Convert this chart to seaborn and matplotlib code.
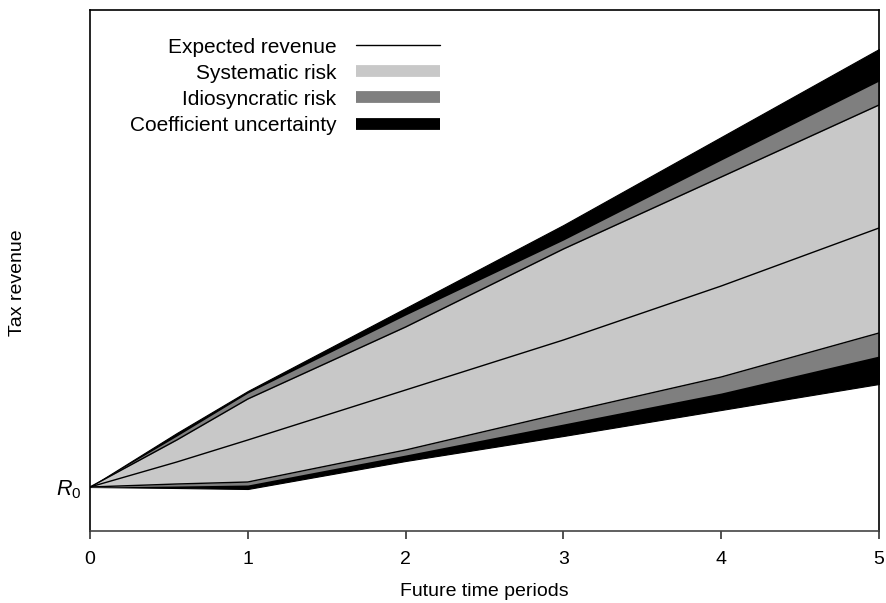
import matplotlib
matplotlib.use("Agg")
import matplotlib.pyplot as plt
from matplotlib.lines import Line2D
import numpy as np
import pandas as pd
import seaborn as sns

# Future time periods at which the revenue bands are evaluated
periods = [0, 0.55, 1, 2, 3, 4, 5]

# Revenue levels (same arbitrary units as the y axis; R0 = 44)
r0 = 44
expected = [44, 69, 91, 141, 191, 245, 303]
systematic_upper = [44, 91, 132, 204, 282, 354, 426]
systematic_lower = [44, 47, 49, 81, 118, 154, 198]
idiosyncratic_upper = [44, 95, 138, 216, 291, 371, 450]
idiosyncratic_lower = [44, 45, 46, 76, 107, 138, 175]
coefficient_upper = [44, 98, 140, 223, 306, 394, 482]
coefficient_lower = [44, 43, 42, 70, 95, 121, 147]

x_ticks = [0, 1, 2, 3, 4, 5]
legend_labels = ["Expected revenue", "Systematic risk",
                 "Idiosyncratic risk", "Coefficient uncertainty"]

LIGHT = "#c8c8c8"
MID = "#7f7f7f"
DARK = "#000000"

sns.set_theme(style="white")
plt.rcParams["font.family"] = ["Liberation Sans", "DejaVu Sans"]
plt.rcParams["mathtext.fontset"] = "custom"
plt.rcParams["mathtext.rm"] = "Liberation Sans"
plt.rcParams["mathtext.it"] = "Liberation Sans:italic"
for key in ["text.color", "axes.labelcolor", "xtick.color", "ytick.color"]:
    plt.rcParams[key] = "black"

df = pd.DataFrame({
    "t": periods,
    "expected": expected,
    "sys_hi": systematic_upper,
    "sys_lo": systematic_lower,
    "idio_hi": idiosyncratic_upper,
    "idio_lo": idiosyncratic_lower,
    "coef_hi": coefficient_upper,
    "coef_lo": coefficient_lower,
})

fig = plt.figure(figsize=(8.87, 6.03), dpi=100)
ax = fig.add_axes([90 / 887, 72 / 603, 789 / 887, 521 / 603])

# Nested uncertainty bands, outermost first
ax.fill_between(df["t"], df["coef_lo"], df["coef_hi"], color=DARK,
                linewidth=0.8, edgecolor=DARK)
ax.fill_between(df["t"], df["idio_lo"], df["idio_hi"], color=MID,
                linewidth=0)
ax.fill_between(df["t"], df["sys_lo"], df["sys_hi"], color=LIGHT,
                linewidth=0)

# Edges of the systematic band and the expected path
for col in ["sys_hi", "sys_lo", "expected"]:
    sns.lineplot(data=df, x="t", y=col, ax=ax, color="black",
                 linewidth=1.0, legend=False, estimator=None)

ax.set_xlim(0, 5)
ax.set_ylim(0, 521)
ax.set_xticks(x_ticks)
ax.set_xticklabels([str(v) for v in x_ticks], fontsize=14)
ax.set_yticks([r0])
ax.set_yticklabels([r"$R_0$"], fontsize=15.5)
ax.tick_params(axis="x", direction="out", length=6, width=1.2,
               color="#333333", pad=8.5, bottom=True)
ax.tick_params(axis="y", length=0, pad=6)

for side, sp in ax.spines.items():
    sp.set_visible(True)
    sp.set_color("black")
    sp.set_linewidth(1.2)
ax.spines["bottom"].set_color("#444444")

ax.set_xlabel("Future time periods", fontsize=14, labelpad=11)
ax.set_ylabel("Tax revenue", fontsize=14)
ax.yaxis.set_label_coords(-0.081, 0.476)

handles = [
    Line2D([], [], color="black", linewidth=1.0),
    Line2D([], [], color=LIGHT, linewidth=8.5, solid_capstyle="butt"),
    Line2D([], [], color=MID, linewidth=8.5, solid_capstyle="butt"),
    Line2D([], [], color=DARK, linewidth=8.5, solid_capstyle="butt"),
]
ax.legend(handles, legend_labels, loc="upper left",
          bbox_to_anchor=(0.04, 0.963), frameon=False, markerfirst=False,
          fontsize=15, handlelength=4.0, handletextpad=0.95,
          labelspacing=0.34, borderaxespad=0)

fig.savefig("out.png", dpi=100)
